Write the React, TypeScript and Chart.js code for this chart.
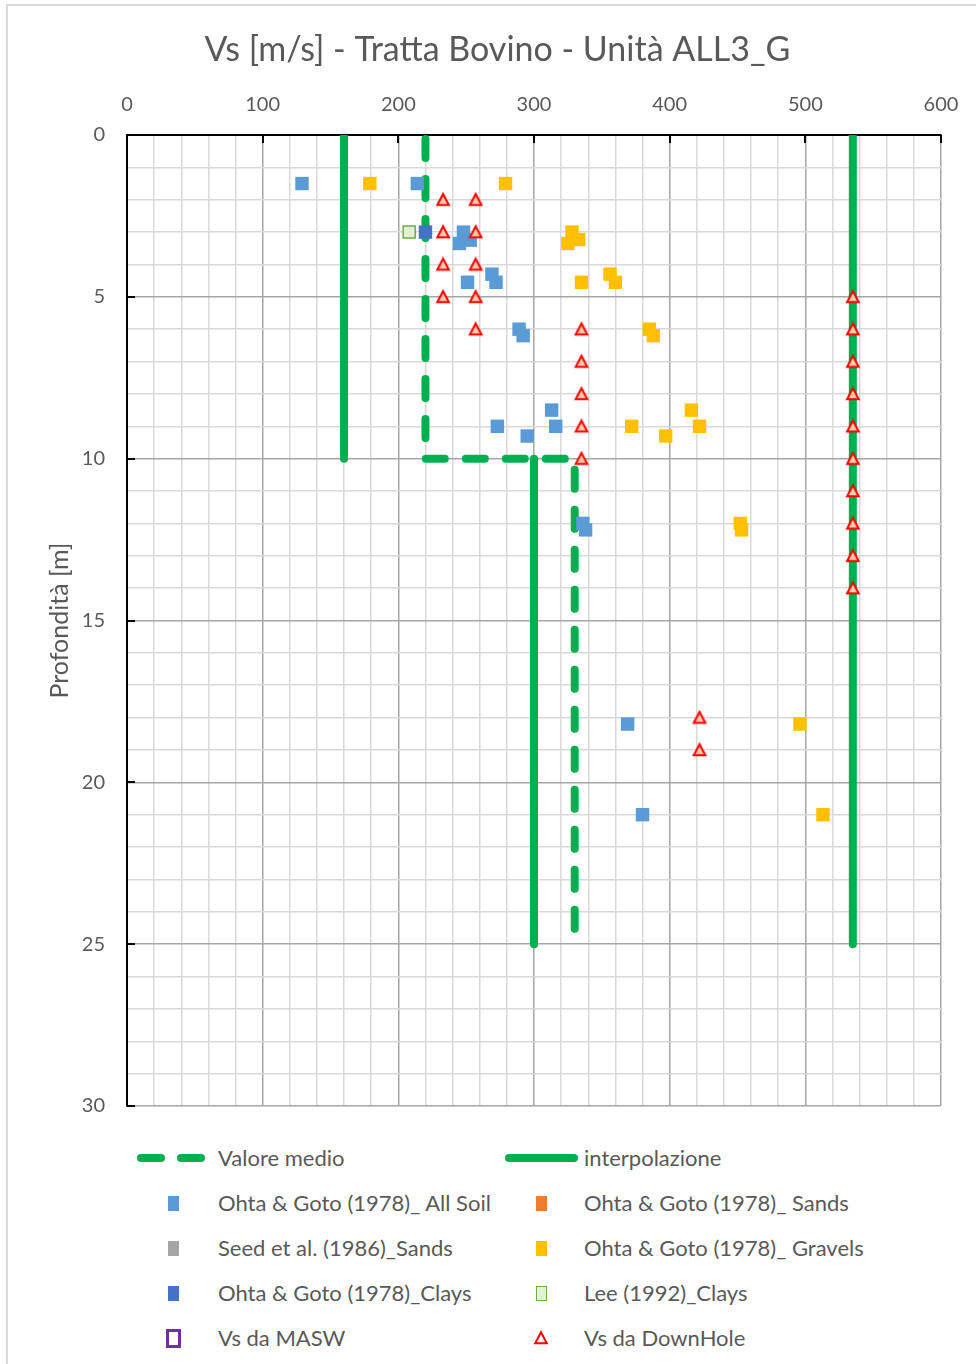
import React, { useEffect, useRef } from "react";
import { Chart, registerables } from "chart.js";

Chart.register(...registerables);

const FONT = "Lato, 'Open Sans', sans-serif";
const TEXT = "#595959";
const GREEN = "#00B050";

const chartTitle = "Vs [m/s] - Tratta Bovino - Unità ALL3_G";
const yAxisTitle = "Profondità [m]";

const xRange = [0, 600];
const xMajorStep = 100;
const xMinorStep = 20;
const yRange = [0, 30];
const yMajorStep = 5;
const yMinorStep = 1;

// [Vs m/s, depth m]
const valoreMedio: number[][] = [[220, 0], [220, 10], [330, 10], [330, 25]];
const interpolazioneA: number[][] = [[160, 0], [160, 10]];
const interpolazioneB: number[][] = [[300, 10], [300, 25]];
const interpolazioneC: number[][] = [[535, 0], [535, 25]];

const ohtaAllSoil: number[][] = [
  [129, 1.5], [214, 1.5], [248, 3], [253, 3.25], [245, 3.35], [269, 4.3], [272, 4.55], [251, 4.55],
  [289, 6], [292, 6.2], [313, 8.5], [316, 9], [273, 9], [295, 9.3], [336, 12], [338, 12.2],
  [369, 18.2], [380, 21],
];
const ohtaSands: number[][] = [];
const seedSands: number[][] = [];
const ohtaGravels: number[][] = [
  [179, 1.5], [279, 1.5], [328, 3], [333, 3.23], [325, 3.35], [356, 4.3], [360, 4.55], [335, 4.55],
  [385, 6], [388, 6.2], [416, 8.5], [422, 9], [372, 9], [397, 9.3], [452, 12], [453, 12.2],
  [496, 18.2], [513, 21],
];
const ohtaClays: number[][] = [[220, 3]];
const leeClays: number[][] = [[208, 3]];
const vsMasw: number[][] = [];
const vsDownHole: number[][] = [
  [233, 2], [233, 3], [233, 4], [233, 5],
  [257, 2], [257, 3], [257, 4], [257, 5], [257, 6],
  [335, 6], [335, 7], [335, 8], [335, 9], [335, 10],
  [535, 5], [535, 6], [535, 7], [535, 8], [535, 9], [535, 10], [535, 11], [535, 12], [535, 13], [535, 14],
  [422, 18], [422, 19],
];

const toXY = (arr: number[][]) => arr.map(([x, y]) => ({ x, y }));

type LegendItem = {
  label: string;
  kind: "dash" | "line" | "rect" | "tri";
  fill?: string;
  stroke?: string;
  sw?: number;
  w?: number;
  h?: number;
};

const legendLeft: LegendItem[] = [
  { label: "Valore medio", kind: "dash" },
  { label: "Ohta & Goto (1978)_ All Soil", kind: "rect", fill: "#5B9BD5" },
  { label: "Seed et al. (1986)_Sands", kind: "rect", fill: "#A5A5A5" },
  { label: "Ohta & Goto (1978)_Clays", kind: "rect", fill: "#4472C4" },
  { label: "Vs da MASW", kind: "rect", fill: "#FFFFFF", stroke: "#7030A0", sw: 3, w: 15, h: 19 },
];
const legendRight: LegendItem[] = [
  { label: "interpolazione", kind: "line" },
  { label: "Ohta & Goto (1978)_ Sands", kind: "rect", fill: "#ED7D31" },
  { label: "Ohta & Goto (1978)_ Gravels", kind: "rect", fill: "#FFC000" },
  { label: "Lee (1992)_Clays", kind: "rect", fill: "#E2F0D9", stroke: "#70AD47", sw: 1.5 },
  { label: "Vs da DownHole", kind: "tri" },
];

const CANVAS_LEFT = 7;
const CANVAS_TOP = 4;
const CANVAS_W = 981;
const CANVAS_H = 1136;

function makeTriangle(fill: string, stroke: string) {
  const c = document.createElement("canvas");
  c.width = 16;
  c.height = 16;
  const g = c.getContext("2d")!;
  g.beginPath();
  g.moveTo(8, 2.2);
  g.lineTo(13.8, 13.2);
  g.lineTo(2.2, 13.2);
  g.closePath();
  g.fillStyle = fill;
  g.fill();
  g.lineWidth = 2;
  g.strokeStyle = stroke;
  g.stroke();
  return c;
}

const insideTicks = {
  id: "insideTicks",
  beforeDatasetsDraw(chart: any) {
    const { ctx, chartArea, scales } = chart;
    const xs = scales.x;
    const ys = scales.y;
    ctx.save();
    ctx.strokeStyle = "#000";
    ctx.lineWidth = 2;
    ctx.beginPath();
    for (let v = xRange[0]; v <= xRange[1]; v += xMajorStep) {
      const px = Math.round(xs.getPixelForValue(v));
      ctx.moveTo(px, chartArea.top);
      ctx.lineTo(px, chartArea.top + 8);
    }
    for (let v = yRange[0]; v <= yRange[1]; v += yMajorStep) {
      const py = Math.round(ys.getPixelForValue(v));
      ctx.moveTo(chartArea.left, py);
      ctx.lineTo(chartArea.left + 8, py);
    }
    ctx.stroke();
    ctx.restore();
  },
};

function LegendMarker({ item }: { item: LegendItem }) {
  if (item.kind === "dash") {
    return (
      <svg width={80} height={12} style={{ position: "absolute", left: -4, top: 6 }}>
        <line x1={8} y1={6} x2={68} y2={6} stroke={GREEN} strokeWidth={8} strokeLinecap="round" strokeDasharray="20 20" />
      </svg>
    );
  }
  if (item.kind === "line") {
    return (
      <svg width={80} height={12} style={{ position: "absolute", left: 0, top: 6 }}>
        <line x1={4} y1={6} x2={69} y2={6} stroke={GREEN} strokeWidth={8} strokeLinecap="round" />
      </svg>
    );
  }
  if (item.kind === "tri") {
    return (
      <svg width={16} height={16} style={{ position: "absolute", left: 28, top: 4 }}>
        <polygon points="8,2.2 13.8,13.2 2.2,13.2" fill="#FFFFFF" stroke="#FF0000" strokeWidth={2} />
      </svg>
    );
  }
  const w = item.w || 11;
  const h = item.h || 15;
  return (
    <div
      style={{
        position: "absolute",
        left: 36 - w / 2,
        top: 12 - h / 2,
        width: w,
        height: h,
        boxSizing: "border-box",
        background: item.fill,
        border: item.stroke ? `${item.sw}px solid ${item.stroke}` : "none",
      }}
    />
  );
}

function LegendRow({ item, left, top, textLeft }: { item: LegendItem; left: number; top: number; textLeft: number }) {
  return (
    <div style={{ position: "absolute", left, top, height: 24, width: 400 }}>
      <LegendMarker item={item} />
      <div
        style={{
          position: "absolute",
          left: textLeft,
          top: 0,
          height: 24,
          lineHeight: "24px",
          fontSize: 22,
          color: TEXT,
          fontFamily: FONT,
          whiteSpace: "nowrap",
        }}
      >
        {item.label}
      </div>
    </div>
  );
}

export default function App() {
  const canvasRef = useRef<HTMLCanvasElement | null>(null);

  useEffect(() => {
    const canvas = canvasRef.current;
    if (!canvas) return;
    const tri = makeTriangle("#F8CBAD", "#FF0000");

    const sq = (data: number[][], color: string, extra: any = {}) => ({
      data: toXY(data),
      pointStyle: "rect",
      pointRadius: 9.5,
      pointHoverRadius: 9.5,
      pointBackgroundColor: color,
      pointBorderColor: color,
      pointBorderWidth: 0,
      showLine: false,
      ...extra,
    });

    const lineDs = (data: number[][], dashed: boolean) => ({
      data: toXY(data),
      showLine: true,
      borderColor: GREEN,
      backgroundColor: GREEN,
      borderWidth: 8,
      borderCapStyle: "round",
      borderJoinStyle: "round",
      borderDash: dashed ? [19, 21] : [],
      borderDashOffset: dashed ? -4 : 0,
      pointRadius: 0,
      pointHoverRadius: 0,
      tension: 0,
      fill: false,
      clip: 0,
    });

    const chart = new Chart(canvas, {
      type: "scatter",
      data: {
        datasets: [
          {
            label: "Vs da DownHole",
            data: toXY(vsDownHole),
            pointStyle: tri,
            pointRadius: 8,
            showLine: false,
          },
          { label: "Ohta & Goto (1978)_ All Soil", ...sq(ohtaAllSoil, "#5B9BD5") },
          { label: "Ohta & Goto (1978)_Clays", ...sq(ohtaClays, "#4472C4") },
          { label: "Ohta & Goto (1978)_ Gravels", ...sq(ohtaGravels, "#FFC000") },
          { label: "Ohta & Goto (1978)_ Sands", ...sq(ohtaSands, "#ED7D31") },
          { label: "Seed et al. (1986)_Sands", ...sq(seedSands, "#A5A5A5") },
          {
            label: "Lee (1992)_Clays",
            ...sq(leeClays, "#E2F0D9", { pointRadius: 8.5, pointBorderColor: "#70AD47", pointBorderWidth: 1.5 }),
          },
          {
            label: "Vs da MASW",
            ...sq(vsMasw, "#FFFFFF", { pointBorderColor: "#7030A0", pointBorderWidth: 2.5 }),
          },
          { label: "Valore medio", ...lineDs(valoreMedio, true) },
          { label: "interpolazione", ...lineDs(interpolazioneA, false) },
          { label: "interpolazione", ...lineDs(interpolazioneB, false) },
          { label: "interpolazione", ...lineDs(interpolazioneC, false) },
        ] as any,
      },
      options: {
        responsive: false,
        animation: false,
        events: [],
        layout: { padding: 0 },
        plugins: {
          legend: { display: false },
          tooltip: { enabled: false },
          title: {
            display: true,
            text: chartTitle,
            color: TEXT,
            font: { family: FONT, size: 34, weight: "normal" as any, lineHeight: 1.2 },
            padding: { top: 25.6, bottom: 0 },
          },
        },
        scales: {
          x: {
            type: "linear",
            position: "top",
            min: xRange[0],
            max: xRange[1],
            afterFit: (s: any) => {
              s.height = 64.6;
            },
            ticks: {
              stepSize: xMinorStep,
              autoSkip: false,
              maxRotation: 0,
              padding: 18,
              color: TEXT,
              font: { family: FONT, size: 20 },
              callback: (v: any) => (Number(v) % xMajorStep === 0 ? String(v) : ""),
            },
            grid: {
              drawTicks: false,
              lineWidth: 1.5,
              color: (c: any) => (c.tick && c.tick.value % xMajorStep === 0 ? "#A6A6A6" : "#D9D9D9"),
            },
            border: { display: true, color: "#000", width: 2 },
          },
          y: {
            type: "linear",
            position: "left",
            reverse: true,
            min: yRange[0],
            max: yRange[1],
            afterFit: (s: any) => {
              s.width = 120;
            },
            ticks: {
              stepSize: yMinorStep,
              autoSkip: false,
              padding: 22,
              color: TEXT,
              font: { family: FONT, size: 20 },
              callback: (v: any) => (Number(v) % yMajorStep === 0 ? String(v) : ""),
            },
            grid: {
              drawTicks: false,
              lineWidth: 1.5,
              color: (c: any) => (c.tick && c.tick.value % yMajorStep === 0 ? "#A6A6A6" : "#D9D9D9"),
            },
            border: { display: true, color: "#000", width: 2 },
            title: {
              display: true,
              text: yAxisTitle,
              color: TEXT,
              font: { family: FONT, size: 25, lineHeight: 1.2 },
              padding: { top: 38, bottom: 0 },
            },
          },
          rightSpace: {
            type: "linear",
            position: "right",
            display: true,
            afterFit: (s: any) => {
              s.width = CANVAS_W - 934;
            },
            ticks: { display: false },
            grid: { display: false, drawTicks: false },
            border: { display: false },
          },
        } as any,
      },
      plugins: [insideTicks],
    });

    return () => chart.destroy();
  }, []);

  const rowsY = [1158, 1203, 1248, 1293, 1338];

  return (
    <div
      style={{
        position: "fixed",
        left: 0,
        top: 0,
        width: 976,
        height: 1364,
        overflow: "hidden",
        background: "#fff",
      }}
    >
      <div
        style={{
          position: "absolute",
          left: 6,
          top: 4,
          width: 1100,
          height: 1500,
          borderTop: "2px solid #D9D9D9",
          borderLeft: "2px solid #D9D9D9",
        }}
      />
      <canvas
        ref={canvasRef}
        width={CANVAS_W}
        height={CANVAS_H}
        style={{ position: "absolute", left: CANVAS_LEFT, top: CANVAS_TOP, width: CANVAS_W, height: CANVAS_H }}
      />
      {legendLeft.map((it, i) => (
        <LegendRow key={"l" + i} item={it} left={137} top={rowsY[i] - 12} textLeft={81} />
      ))}
      {legendRight.map((it, i) => (
        <LegendRow key={"r" + i} item={it} left={505} top={rowsY[i] - 12} textLeft={79} />
      ))}
    </div>
  );
}
